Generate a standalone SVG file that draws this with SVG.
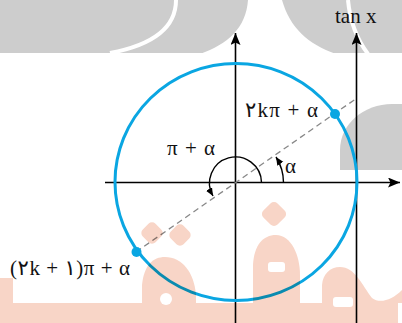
<svg xmlns="http://www.w3.org/2000/svg" width="402" height="323" viewBox="0 0 402 323">
<style>
.ax{stroke:#000;stroke-width:1.6;fill:none}
.arc{stroke:#000;stroke-width:1.4;fill:none}
.t{font-size:21px;fill:#111}
.wm-g{fill:#cdcdcd}
.wm-o{fill:#f8d5c7}
</style>
<defs>
<marker id="big" markerUnits="userSpaceOnUse" markerWidth="14" markerHeight="12" refX="12" refY="5" orient="auto">
<path d="M0,0 L12,5 L0,10 L2.5,5 Z" fill="#000"/>
</marker>
<marker id="small" markerUnits="userSpaceOnUse" markerWidth="10" markerHeight="8" refX="8" refY="3.5" orient="auto">
<path d="M0,0 L8,3.5 L0,7 Z" fill="#000"/>
</marker>
</defs>
<rect width="402" height="323" fill="#fff"/>
<g id="watermark-back">
<path class="wm-g" d="M0,0 H402 V53 H0 Z"/>
<path d="M176,0 C176,25 158,44 110,53" stroke="#fff" stroke-width="4" fill="none"/>
<path d="M248,0 C246,28 228,44 200,54 L336,54 C308,44 290,28 282,0 Z" fill="#fff"/>
<path d="M348,0 C350,22 356,38 368,54" stroke="#fff" stroke-width="4" fill="none"/>
<path class="wm-g" d="M340,170 V150 C340,124 364,104 392,104 H402 V170 Z"/>
</g>
<g id="connectors">
<path class="ax" d="M105,182.5 H400" marker-end="url(#big)"/>
<path class="ax" d="M235.5,323 V33" marker-end="url(#big)"/>
<path class="ax" d="M356.5,323 V33" marker-end="url(#big)"/>
<path d="M136,252 L357,98" stroke="#888" stroke-width="1.3" stroke-dasharray="6,4" fill="none"/>
<path class="arc" d="M283.5,182.5 A48,48 0 0 0 276,157" marker-end="url(#small)"/>
<path class="arc" d="M261.5,182.5 A26,26 0 1 0 213,196" marker-end="url(#small)"/>
</g>
<g id="circle">
<ellipse cx="236" cy="182" rx="121" ry="118.5" fill="none" stroke="#0aa6e2" stroke-width="3"/>
</g>
<g id="point-upper"><circle cx="335" cy="114" r="5" fill="#0aa6e2"/></g>
<g id="point-lower"><circle cx="136.5" cy="252" r="5" fill="#0aa6e2"/></g>
<g id="labels" font-family="'Liberation Serif', 'DejaVu Serif', 'DejaVu Sans', serif">
<text class="t" x="335" y="23">tan x</text>
<text class="t" x="245" y="117" textLength="73" lengthAdjust="spacing">۲kπ + α</text>
<text class="t" x="167" y="155" textLength="48" lengthAdjust="spacing">π + α</text>
<text class="t" x="285" y="173">α</text>
<text class="t" x="10" y="275" textLength="120" lengthAdjust="spacing">(۲k + ۱)π + α</text>
</g>
<g id="watermark-front" style="mix-blend-mode:multiply">
<rect class="wm-o" x="0" y="278" width="13" height="45"/>
<rect class="wm-o" x="0" y="303" width="398" height="20"/>
<rect class="wm-o" x="143" y="224" width="18" height="18" rx="5" transform="rotate(45 152 233)"/>
<rect class="wm-o" x="171" y="226" width="18" height="18" rx="5" transform="rotate(45 180 235)"/>
<rect class="wm-o" x="264" y="204" width="20" height="20" rx="5" transform="rotate(45 274 214)"/>
<path class="wm-o" d="M142,303 V285 C144,265 153,257 165,257 C182,257 194,272 196,295 V303 Z"/>
<path class="wm-o" d="M253,303 V265 C254,245 263,235 276,235 C291,235 300,255 300,275 V303 Z"/>
<path class="wm-o" d="M322,303 V285 C323,274 330,267 340,267 C355,267 362,285 372,298 C380,304 392,300 402,290 V303 Z"/>
<circle cx="166" cy="299" r="6" fill="#fff"/>
<rect x="268" y="262" width="17" height="10" rx="3" fill="#fff"/>
<rect x="333" y="297" width="20" height="10" rx="3" fill="#fff"/>
</g>
</svg>
